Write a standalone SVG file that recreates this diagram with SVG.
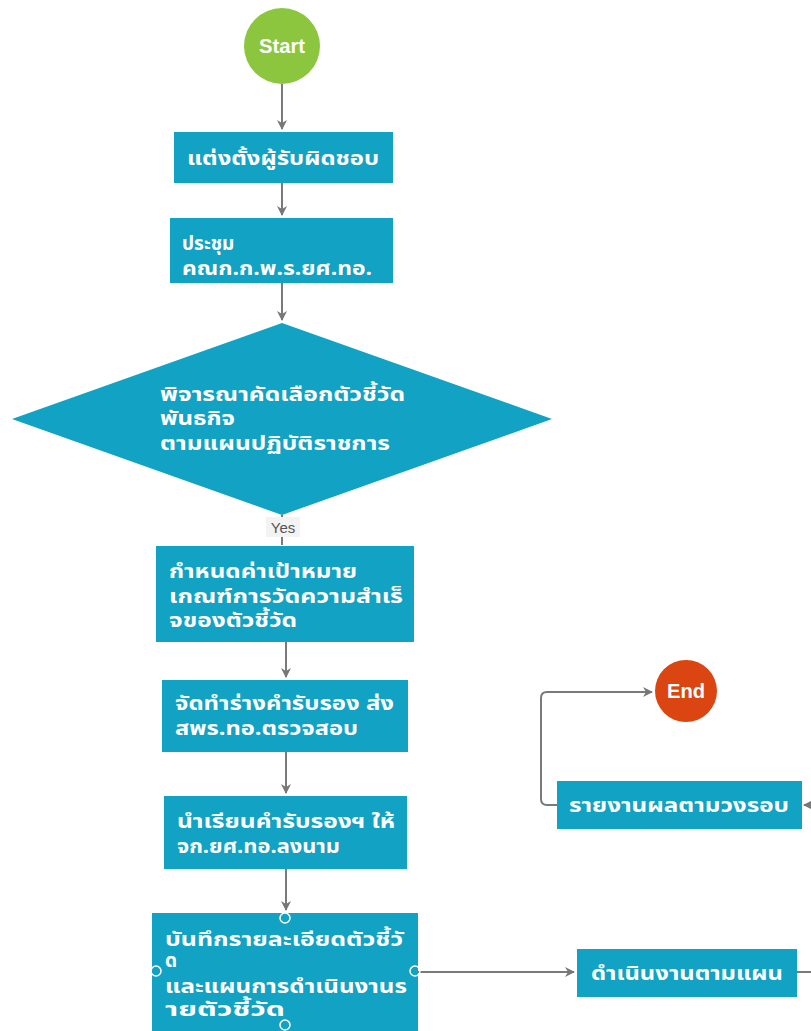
<svg xmlns="http://www.w3.org/2000/svg" width="811" height="1031" viewBox="0 0 811 1031">
<defs>
<marker id="arr" viewBox="0 0 10 10" refX="9" refY="5" markerWidth="10" markerHeight="10" markerUnits="userSpaceOnUse" orient="auto">
<path d="M0,0 L10,5 L0,10 L3,5 Z" fill="#777"/>
</marker>
</defs>
<style>
.box{fill:#12A2C4;}
.t{font-family:"Noto Sans Thai","Noto Sans","DejaVu Sans",sans-serif;font-weight:bold;font-size:19px;fill:#fff;}
.c{stroke:#7a7a7a;stroke-width:2;fill:none;}
.h{fill:none;stroke:#fff;stroke-width:1.5;}
</style>
<rect width="811" height="1031" fill="#fff"/>
<g id="connectors">
<path class="c" d="M282,84 V129" marker-end="url(#arr)"/>
<path class="c" d="M282,183 V215" marker-end="url(#arr)"/>
<path class="c" d="M282,283 V320" marker-end="url(#arr)"/>
<path class="c" d="M282,515 V545"/>
<path class="c" d="M286,642 V677" marker-end="url(#arr)"/>
<path class="c" d="M286,752 V793" marker-end="url(#arr)"/>
<path class="c" d="M286,869 V910" marker-end="url(#arr)"/>
<path class="c" d="M418,972 H574" marker-end="url(#arr)"/>
<path class="c" d="M797,972 H811"/>
<path class="c" d="M811,805 H804" marker-end="url(#arr)"/>
<path class="c" d="M557,805 H547 Q541,805 541,799 V698 Q541,692 547,692 H652" marker-end="url(#arr)"/>
<rect x="266" y="517" width="34" height="20" fill="#f3f3f3"/>
<text x="283" y="533" text-anchor="middle" font-family="'Liberation Sans',Arial,sans-serif" font-size="15" fill="#555">Yes</text>
</g>
<g id="start">
<circle cx="282" cy="46" r="38" fill="#8CC63F"/>
<text x="282" y="53" text-anchor="middle" font-family="'Liberation Sans',Arial,sans-serif" font-weight="bold" font-size="20" fill="#fff" textLength="46" lengthAdjust="spacingAndGlyphs">Start</text>
</g>
<g id="n1">
<rect class="box" x="174" y="132" width="219" height="51"/>
<text class="t" x="283" y="165" text-anchor="middle" textLength="192" lengthAdjust="spacingAndGlyphs">แต่งตั้งผู้รับผิดชอบ</text>
</g>
<g id="n2">
<rect class="box" x="170" y="218" width="223" height="65"/>
<text class="t" x="182" y="250">ประชุม</text>
<text class="t" x="182" y="275" textLength="190" lengthAdjust="spacingAndGlyphs">คณก.ก.พ.ร.ยศ.ทอ.</text>
</g>
<g id="decision">
<polygon points="282,323 552,419 282,515 12,419" fill="#12A2C4"/>
<text class="t" x="160" y="401" textLength="245" lengthAdjust="spacingAndGlyphs">พิจารณาคัดเลือกตัวชี้วัด</text>
<text class="t" x="160" y="425" textLength="75" lengthAdjust="spacingAndGlyphs">พันธกิจ</text>
<text class="t" x="160" y="450" textLength="230" lengthAdjust="spacingAndGlyphs">ตามแผนปฏิบัติราชการ</text>
</g>
<g id="n3">
<rect class="box" x="156" y="546" width="258" height="96"/>
<text class="t" x="169" y="578" textLength="188" lengthAdjust="spacingAndGlyphs">กำหนดค่าเป้าหมาย</text>
<text class="t" x="169" y="603" textLength="234" lengthAdjust="spacingAndGlyphs">เกณฑ์การวัดความสำเร็</text>
<text class="t" x="169" y="627" textLength="128" lengthAdjust="spacingAndGlyphs">จของตัวชี้วัด</text>
</g>
<g id="n4">
<rect class="box" x="162" y="680" width="246" height="72"/>
<text class="t" x="175" y="710" textLength="219" lengthAdjust="spacingAndGlyphs">จัดทำร่างคำรับรอง ส่ง</text>
<text class="t" x="175" y="735" textLength="183" lengthAdjust="spacingAndGlyphs">สพร.ทอ.ตรวจสอบ</text>
</g>
<g id="n5">
<rect class="box" x="164" y="796" width="243" height="73"/>
<text class="t" x="177" y="828" textLength="218" lengthAdjust="spacingAndGlyphs">นำเรียนคำรับรองฯ ให้</text>
<text class="t" x="177" y="853" textLength="163" lengthAdjust="spacingAndGlyphs">จก.ยศ.ทอ.ลงนาม</text>
</g>
<g id="n6">
<rect class="box" x="152" y="913" width="266" height="130"/>
<text class="t" x="165" y="946" textLength="238" lengthAdjust="spacingAndGlyphs">บันทึกรายละเอียดตัวชี้วั</text>
<text class="t" x="165" y="967">ด</text>
<text class="t" x="165" y="993" textLength="242" lengthAdjust="spacingAndGlyphs">และแผนการดำเนินงานร</text>
<text class="t" x="165" y="1016" textLength="120" lengthAdjust="spacingAndGlyphs">ายตัวชี้วัด</text>
<circle class="h" cx="285" cy="918" r="5"/>
<circle class="h" cx="156" cy="971" r="5"/>
<circle class="h" cx="415" cy="971" r="5"/>
<circle class="h" cx="285" cy="1025" r="5"/>
</g>
<g id="n7">
<rect class="box" x="577" y="949" width="220" height="48"/>
<text class="t" x="687" y="980" text-anchor="middle" textLength="192" lengthAdjust="spacingAndGlyphs">ดำเนินงานตามแผน</text>
</g>
<g id="n8">
<rect class="box" x="557" y="781" width="245" height="48"/>
<text class="t" x="679" y="812" text-anchor="middle" textLength="220" lengthAdjust="spacingAndGlyphs">รายงานผลตามวงรอบ</text>
</g>
<g id="end">
<circle cx="686" cy="691" r="31" fill="#DA4512"/>
<text x="686" y="698" text-anchor="middle" font-family="'Liberation Sans',Arial,sans-serif" font-weight="bold" font-size="20" fill="#fff" textLength="38" lengthAdjust="spacingAndGlyphs">End</text>
</g>
</svg>
